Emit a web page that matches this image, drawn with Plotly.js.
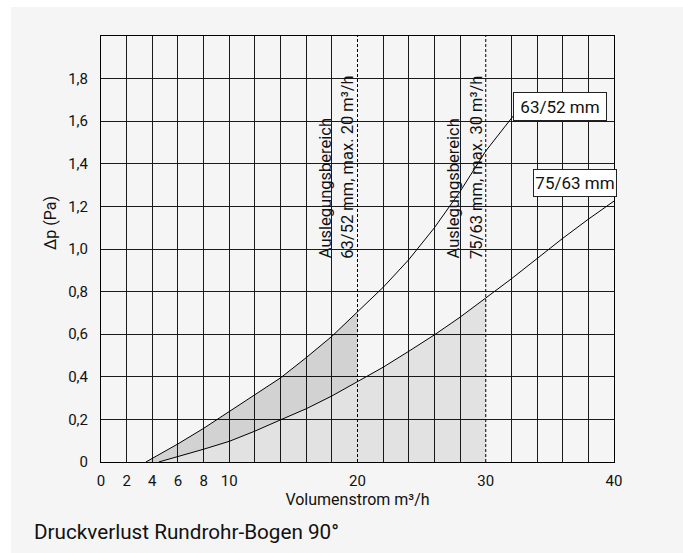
<!DOCTYPE html>
<html>
<head>
<meta charset="utf-8">
<script src="https://cdn.plot.ly/plotly-3.0.1.min.js"></script>
<style>
  html, body { margin: 0; padding: 0; background: #ffffff; }
  #chart { position: absolute; left: 11px; top: 7px; width: 672px; height: 546px; }
</style>
</head>
<body>
<div id="chart"></div>
<script>
// ---- data ----
const flowUpper = [3.5, 6, 8, 10, 12, 14, 16, 18, 20, 22, 24, 26, 28, 30, 32.15];      // 63/52 mm, m³/h
const dpUpper   = [0, 0.085, 0.158, 0.237, 0.313, 0.395, 0.49, 0.59, 0.705, 0.82, 0.95, 1.10, 1.27, 1.46, 1.625]; // Pa
const flowLower = [4.5, 6, 8, 10, 12, 14, 16, 18, 20, 22, 24, 26, 28, 30, 32, 34, 36, 38, 40]; // 75/63 mm
const dpLower   = [0, 0.025, 0.06, 0.097, 0.145, 0.198, 0.25, 0.31, 0.378, 0.445, 0.52, 0.597, 0.68, 0.77, 0.86, 0.955, 1.05, 1.14, 1.225];
const seriesNames = ['63/52 mm', '75/63 mm'];
const designLimits = [20, 30];   // max. design flow for 63/52 and 75/63
const designLine1 = ['Auslegungsbereich', 'Auslegungsbereich'];
const designLine2 = ['63/52 mm, max. 20 m³/h', '75/63 mm, max. 30 m³/h'];
const xTickVals = [0, 2, 4, 6, 8, 10, 20, 30, 40];
const xTickText = ['0', '2', '4', '6', '8', '10', '20', '30', '40'];
const yTickVals = [0, 0.2, 0.4, 0.6, 0.8, 1.0, 1.2, 1.4, 1.6, 1.8];
const yTickText = ['0', '0,2', '0,4', '0,6', '0,8', '1,0', '1,2', '1,4', '1,6', '1,8'];
const xRange = [0, 40];
const yRange = [0, 2.0];
const gridStepX = 2;
const xTitle = 'Volumenstrom m³/h';
const yTitle = 'Δp (Pa)';
const caption = 'Druckverlust Rundrohr-Bogen 90°';

// ---- helpers ----
function upTo(xs, ys, lim) {
  const ox = [], oy = [];
  xs.forEach((x, i) => { if (x <= lim + 1e-9) { ox.push(x); oy.push(ys[i]); } });
  return { x: ox, y: oy };
}
const gridX = [];
for (let v = xRange[0]; v <= xRange[1] + 1e-9; v += gridStepX) {
  if (!designLimits.includes(v)) gridX.push(v);
}

const FONT = 'Roboto, "Liberation Sans", Arial, sans-serif';
const lowerTo30 = upTo(flowLower, dpLower, designLimits[1]);
const lowerTo20 = upTo(flowLower, dpLower, designLimits[0]);
const upperTo20 = upTo(flowUpper, dpUpper, designLimits[0]);

const traces = [
  { x: lowerTo30.x, y: lowerTo30.y, mode: 'lines', fill: 'tozeroy', fillcolor: 'rgba(0,0,0,0.075)',
    line: { width: 0 }, hoverinfo: 'skip', showlegend: false },
  { x: lowerTo20.x, y: lowerTo20.y, mode: 'lines', line: { width: 0 }, hoverinfo: 'skip', showlegend: false },
  { x: upperTo20.x, y: upperTo20.y, mode: 'lines', fill: 'tonexty', fillcolor: 'rgba(0,0,0,0.14)',
    line: { width: 0 }, hoverinfo: 'skip', showlegend: false },
  { x: flowUpper, y: dpUpper, mode: 'lines', name: seriesNames[0], line: { color: '#000', width: 1 }, showlegend: false },
  { x: flowLower, y: dpLower, mode: 'lines', name: seriesNames[1], line: { color: '#000', width: 1 }, showlegend: false },
];
designLimits.forEach(v => {
  traces.push({ x: [v, v], y: yRange, mode: 'lines', line: { color: '#000', width: 1, dash: '3px,2px' },
    hoverinfo: 'skip', showlegend: false });
});
traces.push({ x: [], y: [], xaxis: 'x2', mode: 'lines', showlegend: false, hoverinfo: 'skip' });

const annotations = [
  { xref: 'paper', yref: 'paper', x: -0.0994, y: 0.561, xanchor: 'center', yanchor: 'middle',
    text: yTitle, textangle: -90, showarrow: false, font: { family: FONT, size: 16, color: '#111' } },
  { xref: 'paper', yref: 'paper', x: -0.134, y: -0.164, xanchor: 'left', yanchor: 'middle',
    text: caption, showarrow: false, font: { family: FONT, size: 20.7, color: '#111' } },
  { x: flowUpper[flowUpper.length - 1], y: dpUpper[dpUpper.length - 1] - 0.025, xanchor: 'left', yanchor: 'bottom',
    text: seriesNames[0], showarrow: false, bgcolor: '#ffffff', bordercolor: '#222', borderwidth: 1,
    width: 92, height: 27, borderpad: 0, font: { family: FONT, size: 17, color: '#111' } },
  { x: flowLower[flowLower.length - 1], y: dpLower[dpLower.length - 1] + 0.02, xanchor: 'right', yanchor: 'bottom', xshift: 3,
    text: seriesNames[1], showarrow: false, bgcolor: '#ffffff', bordercolor: '#222', borderwidth: 1,
    width: 82, height: 26, borderpad: 0, font: { family: FONT, size: 17, color: '#111' } },
];
designLimits.forEach((v, i) => {
  annotations.push({ x: v, y: 0.945, xanchor: 'center', yanchor: 'bottom', xshift: -32,
    text: designLine1[i], textangle: -90, showarrow: false,
    font: { family: FONT, size: 16.5, color: '#111' } });
  annotations.push({ x: v, y: 0.945, xanchor: 'center', yanchor: 'bottom', xshift: -10,
    text: designLine2[i], textangle: -90, showarrow: false,
    font: { family: FONT, size: 16.5, color: '#111' } });
});

const layout = {
  width: 672, height: 546,
  margin: { l: 90, r: 69, t: 29, b: 91 },
  paper_bgcolor: '#f5f5f5', plot_bgcolor: '#f5f5f5',
  font: { family: FONT, size: 15, color: '#111' },
  xaxis: {
    range: xRange, tickmode: 'array', tickvals: xTickVals, ticktext: xTickText,
    showgrid: false, zeroline: false, showline: true, mirror: true, linecolor: '#000', linewidth: 1,
    ticks: '', ticklabelstandoff: 5,
    title: { text: xTitle, standoff: 2, font: { family: FONT, size: 16, color: '#111' } },
  },
  xaxis2: {
    overlaying: 'x', matches: 'x', anchor: 'y', range: xRange, tickmode: 'array', tickvals: gridX,
    showticklabels: false, showgrid: true, gridcolor: '#1a1a1a', gridwidth: 1, zeroline: false, ticks: '',
    showline: false,
  },
  yaxis: {
    range: yRange, tickmode: 'array', tickvals: yTickVals, ticktext: yTickText,
    showgrid: true, gridcolor: '#1a1a1a', gridwidth: 1, zeroline: false,
    showline: true, mirror: true, linecolor: '#000', linewidth: 1, ticks: '', ticklabelstandoff: 9,
  },
  annotations: annotations,
  showlegend: false,
};

Plotly.newPlot('chart', traces, layout, { displayModeBar: false, staticPlot: true });
</script>
</body>
</html>
